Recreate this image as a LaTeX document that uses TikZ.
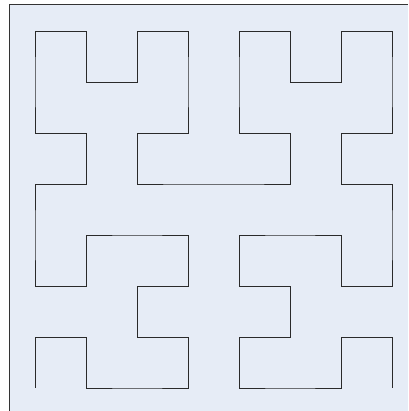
\documentclass[tikz,border=0pt]{standalone}
\definecolor{bgblue}{HTML}{E6ECF6}
\definecolor{curvegray}{HTML}{2A2A2A}
\tikzset{
  framestyle/.style={draw=black!80, line width=1pt},
  curvestyle/.style={draw=curvegray, line width=0.9pt, line join=miter, line cap=butt}
}
\begin{document}
\begin{tikzpicture}[x=1pt,y=1pt]
\useasboundingbox (0,0) rectangle (408,411);
\fill[white] (0,0) rectangle (408,411);
\fill[bgblue] (9.5,0) rectangle (408,406);
\draw[framestyle] (9.5,0) -- (9.5,406) -- (408,406);
\begin{scope}[shift={(35,23)}, x=51pt, y=51pt]
\draw[curvestyle]
 (0,0)--(0,1)--(1,1)--(1,0)--(2,0)--(3,0)--(3,1)--(2,1)--(2,2)--(3,2)--(3,3)--(2,3)--(1,3)--(1,2)--(0,2)--(0,3)
 --(0,4)--(1,4)--(1,5)--(0,5)--(0,6)--(0,7)--(1,7)--(1,6)--(2,6)--(2,7)--(3,7)--(3,6)--(3,5)--(2,5)--(2,4)--(3,4)
 --(4,4)--(5,4)--(5,5)--(4,5)--(4,6)--(4,7)--(5,7)--(5,6)--(6,6)--(6,7)--(7,7)--(7,6)--(7,5)--(6,5)--(6,4)--(7,4)
 --(7,3)--(7,2)--(6,2)--(6,3)--(5,3)--(4,3)--(4,2)--(5,2)--(5,1)--(4,1)--(4,0)--(5,0)--(6,0)--(6,1)--(7,1)--(7,0);
\end{scope}
\end{tikzpicture}
\end{document}
